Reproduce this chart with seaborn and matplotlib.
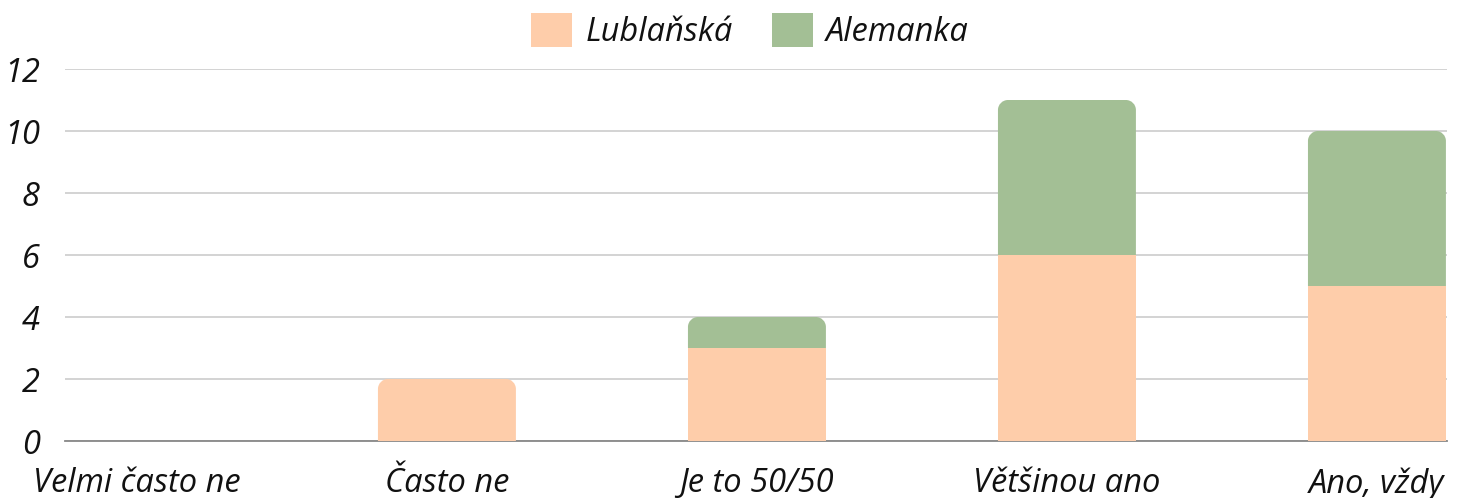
import matplotlib
matplotlib.use("Agg")
import matplotlib.pyplot as plt
import seaborn as sns
import pandas as pd
import numpy as np
from matplotlib.path import Path
from matplotlib.patches import PathPatch, Patch

categories = ["Velmi často ne", "Často ne", "Je to 50/50", "Většinou ano", "Ano, vždy"]
lublanska = [0, 2, 3, 6, 5]
alemanka = [0, 0, 1, 5, 5]
series_names = ["Lublaňská", "Alemanka"]
colors = ["#FECDAA", "#A3BF95"]
yticks = [0, 2, 4, 6, 8, 10, 12]

sns.set_theme(style="white")
plt.rcParams['font.family'] = ['Open Sans', 'DejaVu Sans']
plt.rcParams['font.style'] = 'italic'

FS = 23.5

fig = plt.figure(figsize=(14.67, 4.98), dpi=100)
ax = fig.add_axes([65/1467, (498-441)/498, (1447-65)/1467, (441-69)/498])

totals = [a + b for a, b in zip(lublanska, alemanka)]
df_tot = pd.DataFrame({"cat": categories, "val": totals})
df_low = pd.DataFrame({"cat": categories, "val": lublanska})
width = 0.445
sns.barplot(data=df_tot, x="cat", y="val", color=colors[1], width=width,
            saturation=1, ax=ax, linewidth=0, zorder=3)
sns.barplot(data=df_low, x="cat", y="val", color=colors[0], width=width,
            saturation=1, ax=ax, linewidth=0, zorder=4)

ax.set_xlim(-0.232, 4.226)
ax.set_ylim(0, 12)
ax.set_yticks(yticks)
ax.set_yticklabels([str(t) for t in yticks])
ax.yaxis.grid(True, color="#CCCCCC", linewidth=1.2, zorder=0)
ax.set_axisbelow(True)
for s in ["top", "right", "left"]:
    ax.spines[s].set_visible(False)
ax.spines["bottom"].set_color("#888888")
ax.spines["bottom"].set_linewidth(1.3)
ax.spines["bottom"].set_zorder(2)
ax.set_xlabel("")
ax.set_ylabel("")
ax.tick_params(axis="y", length=0, pad=18, labelsize=FS, labelcolor="#111111")
ax.tick_params(axis="x", length=0, pad=19, labelsize=FS, labelcolor="#111111")
for lab in ax.get_xticklabels() + ax.get_yticklabels():
    lab.set_fontstyle("italic")

# round top corners of the topmost visible segment of each bar
fig.canvas.draw()
px_x = (ax.transData.transform((1, 0))[0] - ax.transData.transform((0, 0))[0])
px_y = (ax.transData.transform((0, 1))[1] - ax.transData.transform((0, 0))[1])
rpx = 10
rx, ry = rpx / px_x, rpx / px_y
k = 0.5523
n = len(categories)
green_patches = ax.patches[:n]
peach_patches = ax.patches[n:2*n]
for i in range(n):
    g, p = green_patches[i], peach_patches[i]
    if alemanka[i] > 0:
        top = g
    elif lublanska[i] > 0:
        top = p
        g.set_visible(False)
    else:
        g.set_visible(False)
        p.set_visible(False)
        continue
    x0, w = top.get_x(), top.get_width()
    y0, h = top.get_y(), top.get_height()
    x1, y1 = x0 + w, y0 + h
    ybase = lublanska[i] if top is g else 0
    verts = [
        (x0, ybase), (x0, y1 - ry),
        (x0, y1 - ry + k*ry), (x0 + rx - k*rx, y1), (x0 + rx, y1),
        (x1 - rx, y1),
        (x1 - rx + k*rx, y1), (x1, y1 - ry + k*ry), (x1, y1 - ry),
        (x1, ybase), (x0, ybase)
    ]
    codes = [Path.MOVETO, Path.LINETO,
             Path.CURVE4, Path.CURVE4, Path.CURVE4,
             Path.LINETO,
             Path.CURVE4, Path.CURVE4, Path.CURVE4,
             Path.LINETO, Path.CLOSEPOLY]
    top.set_visible(False)
    col = colors[1] if top is g else colors[0]
    ax.add_patch(PathPatch(Path(verts, codes), facecolor=col, edgecolor="none",
                           zorder=top.get_zorder()))

handles = [Patch(facecolor=c, edgecolor="none") for c in colors]
leg = fig.legend(handles, series_names, loc="center", bbox_to_anchor=(750/1467, 1 - 31/498),
                 ncol=2, frameon=False, fontsize=FS, handlelength=1.25, handleheight=1.25,
                 handletextpad=0.4, columnspacing=1.2)
for t in leg.get_texts():
    t.set_fontstyle("italic")
    t.set_color("#111111")

fig.savefig("out.png", dpi=100)
